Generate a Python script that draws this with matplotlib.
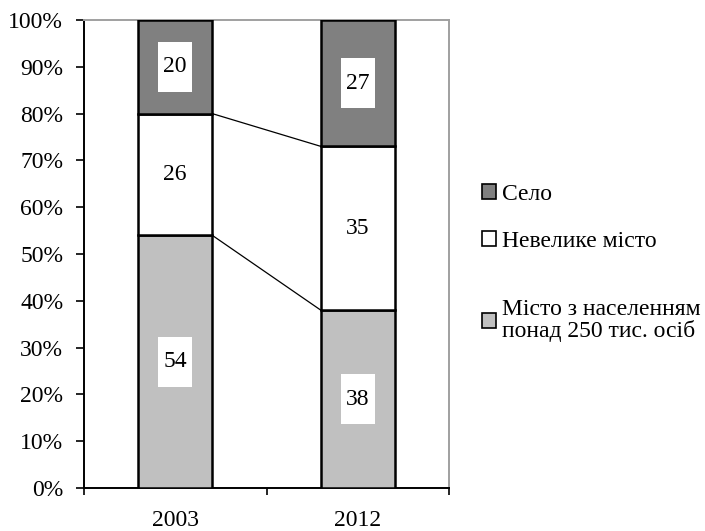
import matplotlib.pyplot as plt
from matplotlib.patches import Patch, Rectangle
import numpy as np

# data
years = ['2003', '2012']
big_city = [54, 38]
small_town = [26, 35]
village = [20, 27]
series_names = ['Місто з населенням\nпонад 250 тис. осіб', 'Невелике місто', 'Село']
series_colors = ['#c0c0c0', '#ffffff', '#808080']
label_boxed = [True, False, True]

plt.rcParams['font.family'] = ['Liberation Serif', 'DejaVu Serif']
plt.rcParams['font.size'] = 17

fig = plt.figure(figsize=(7.05, 5.31), dpi=100)
ax = fig.add_axes([84/705, 1-488/531, 365/705, 468/531])

x = np.arange(len(years))
w = 0.405
box_w, box_h = 0.186, 10.7   # white label boxes (data units)
data = [big_city, small_town, village]
bottom = np.zeros(len(years))
for vals, col, name, boxed in zip(data, series_colors, series_names, label_boxed):
    vals = np.array(vals, dtype=float)
    ax.bar(x, vals, w, bottom=bottom, color=col, edgecolor='black', linewidth=1.8, label=name, zorder=3)
    for xi, v, b in zip(x, vals, bottom):
        yc = b + v/2
        if boxed:
            ax.add_patch(Rectangle((xi - box_w/2, yc - box_h/2), box_w, box_h,
                                   facecolor='white', edgecolor='none', zorder=4))
        ax.text(xi, yc, str(int(v)), ha='center', va='center', fontsize=17, zorder=5)
    bottom = bottom + vals
    # connector lines between the bars
    if bottom[0] < 100:
        ax.plot([x[0] + w/2, x[1] - w/2], [bottom[0], bottom[1]], color='black', lw=0.9, zorder=2)

ax.set_xlim(-0.5, 1.5)
ax.set_ylim(0, 100)
ax.set_yticks(np.arange(0, 101, 10))
ax.set_yticklabels(['%d%%' % v for v in range(0, 101, 10)])
ax.tick_params(axis='y', direction='out', length=6, width=1.2, pad=9)

ax.set_xticks([-0.5, 0.5, 1.5])
ax.set_xticklabels([])
ax.tick_params(axis='x', which='major', direction='out', length=5, width=1.2)
ax.set_xticks(x, minor=True)
ax.set_xticklabels(years, minor=True)
ax.tick_params(axis='x', which='minor', length=0, pad=16)

for s in ['left', 'bottom']:
    ax.spines[s].set_color('black')
    ax.spines[s].set_linewidth(1.4)
for s in ['top', 'right']:
    ax.spines[s].set_color('#a0a0a0')
    ax.spines[s].set_linewidth(1.4)

handles = [Patch(facecolor=c, edgecolor='black', linewidth=1.2) for c in series_colors[::-1]]
leg_kw = dict(frameon=False, handlelength=0.6, handleheight=0.6, handletextpad=0.25,
              fontsize=17, borderpad=0, borderaxespad=0)
leg1 = fig.legend(handles[:2], series_names[::-1][:2], loc='upper left',
                  bbox_to_anchor=(482/705, 1-184/531), labelspacing=1.1, **leg_kw)
leg2 = fig.legend(handles[2:], series_names[::-1][2:], loc='upper left',
                  bbox_to_anchor=(482/705, 1-299/531), **leg_kw)
for t in leg2.get_texts():
    t.set_linespacing(1.0)

fig.savefig('out.png', dpi=100)
